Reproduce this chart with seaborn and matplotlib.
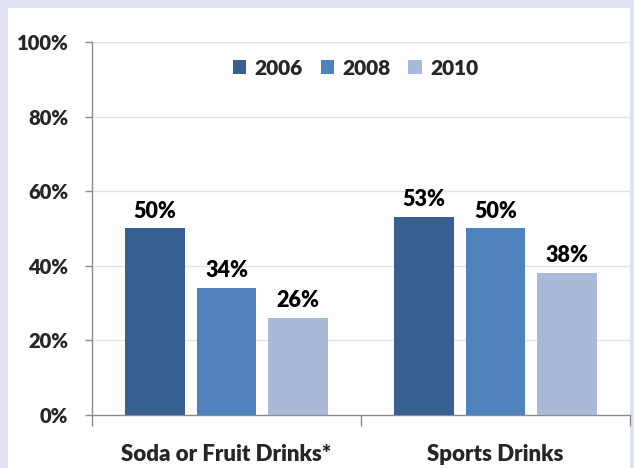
import pandas as pd
import matplotlib.pyplot as plt
import seaborn as sns

categories = ["Soda or Fruit Drinks*", "Sports Drinks"]
years = ["2006", "2008", "2010"]
values_2006 = [50, 53]
values_2008 = [34, 50]
values_2010 = [26, 38]
colors = ["#375F91", "#4F81BD", "#A9BAD8"]

df = pd.DataFrame({
    "category": categories * 3,
    "year": [y for y in years for _ in categories],
    "value": values_2006 + values_2008 + values_2010,
})

sns.set_style("white")
plt.rcParams["font.family"] = ["Lato", "DejaVu Sans"]
plt.rcParams["font.weight"] = "heavy"
W = "heavy"

fig = plt.figure(figsize=(6.34, 4.68), dpi=100, facecolor="#E0E2F2")
# white panel inside the lavender border
bg = fig.add_axes([8 / 634, 0, 622 / 634, 460 / 468], zorder=0)
bg.set_facecolor("white")
bg.set_xticks([])
bg.set_yticks([])
for s in bg.spines.values():
    s.set_visible(False)

ax = fig.add_axes([92 / 634, 53 / 468, 538 / 634, 373 / 468], zorder=1)
ax.set_facecolor("none")

sns.barplot(data=df, x="category", y="value", hue="year", palette=colors,
            saturation=1, width=0.8, gap=0.17, ax=ax, edgecolor="none", zorder=3)

for cont in ax.containers:
    ax.bar_label(cont, labels=[f"{v:.0f}%" for v in cont.datavalues], padding=5,
                 fontsize=15.5, fontweight=W, color="black")

ax.set_ylim(0, 100)
ax.set_xlim(-0.5, 1.5)
ax.set_yticks(range(0, 101, 20))
ax.set_yticklabels([f"{t}%" for t in range(0, 101, 20)], fontsize=14.5, fontweight=W)
ax.yaxis.grid(True, color="#E3E3E3", linewidth=1, zorder=0)
ax.set_axisbelow(True)
ax.tick_params(axis="y", which="major", left=True, length=5, width=1, color="#8C8C8C", pad=12)

ax.set_xticks([0, 1])
ax.set_xticklabels(categories, fontsize=16, fontweight=W)
ax.set_xticks([-0.5, 0.5, 1.5], minor=True)
ax.tick_params(axis="x", which="major", length=0, pad=21)
ax.tick_params(axis="x", which="minor", bottom=True, length=8, width=1, color="#8C8C8C")
ax.set_xlabel("")
ax.set_ylabel("")

for side in ["top", "right"]:
    ax.spines[side].set_visible(False)
for side in ["left", "bottom"]:
    ax.spines[side].set_color("#8C8C8C")
    ax.spines[side].set_linewidth(1)

ax.legend(loc="center", bbox_to_anchor=(0.49, 0.93), ncol=3, frameon=False,
          handlelength=0.65, handleheight=0.65, handletextpad=0.4, columnspacing=0.85,
          prop={"size": 15, "weight": W})

fig.savefig("out.png", dpi=100, facecolor=fig.get_facecolor())
